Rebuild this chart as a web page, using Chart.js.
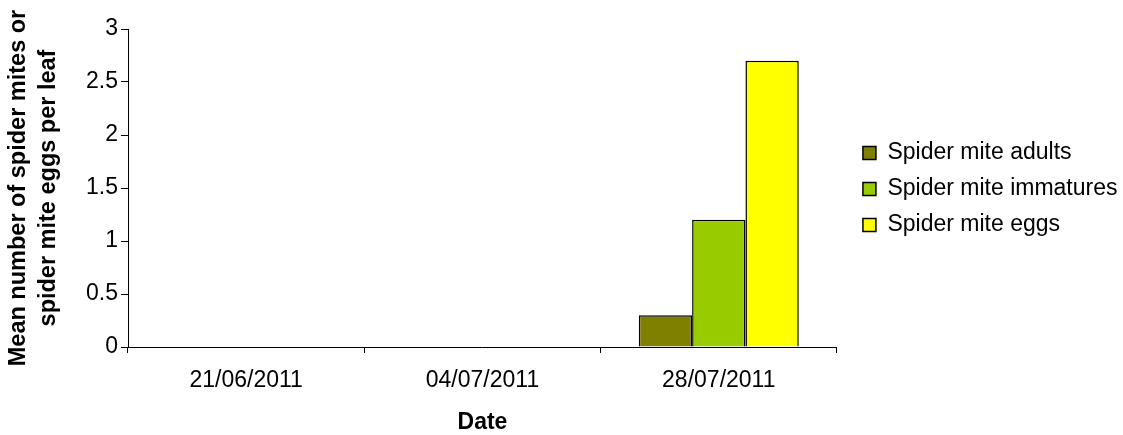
<!DOCTYPE html>
<html>
<head>
<meta charset="utf-8">
<script src="https://cdn.jsdelivr.net/npm/chart.js@4.4.1/dist/chart.umd.min.js"></script>
<style>
  html, body { margin: 0; padding: 0; background: #ffffff; }
  #wrap { width: 1123px; height: 435px; position: relative; }
</style>
</head>
<body>
<div id="wrap"><canvas id="c" width="1123" height="435"></canvas></div>
<script>
// Sampling dates and mean counts per leaf
const dates = ['21/06/2011', '04/07/2011', '28/07/2011'];
const adults = [0, 0, 0.3];
const immatures = [0, 0, 1.2];
const eggs = [0, 0, 2.7];
const seriesNames = ['Spider mite adults', 'Spider mite immatures', 'Spider mite eggs'];
const seriesColors = ['#808000', '#99cc00', '#ffff00'];
const yTicks = [0, 0.5, 1, 1.5, 2, 2.5, 3];

const FONT = 'Liberation Sans, Arial, sans-serif';

// Moves the legend block away from the plot area and up beside it
const legendPlace = {
  id: 'legendPlace',
  afterLayout(chart) {
    const lg = chart.legend;
    if (lg) {
      lg.left += 13; lg.right += 13;
      lg.top -= 43; lg.bottom -= 43;
    }
  }
};

const ctx = document.getElementById('c').getContext('2d');
new Chart(ctx, {
  type: 'bar',
  data: {
    labels: dates,
    datasets: [adults, immatures, eggs].map((vals, i) => ({
      label: seriesNames[i],
      data: vals,
      backgroundColor: seriesColors[i],
      borderColor: '#000000',
      borderWidth: 1.5,
      categoryPercentage: 0.677,
      barPercentage: 1.0
    }))
  },
  plugins: [legendPlace],
  options: {
    responsive: false,
    animation: false,
    devicePixelRatio: 1,
    layout: { padding: { top: 29, right: 8.5, left: 0, bottom: 0 } },
    plugins: {
      tooltip: { enabled: false },
      legend: {
        position: 'right',
        align: 'center',
        labels: {
          color: '#000000',
          font: { family: FONT, size: 23, lineHeight: 1.2 },
          boxWidth: 13,
          boxHeight: 13,
          padding: 13,
          generateLabels(chart) {
            return chart.data.datasets.map((ds, i) => ({
              text: ds.label,
              fillStyle: ds.backgroundColor,
              strokeStyle: '#000000',
              lineWidth: 1.5,
              hidden: false,
              datasetIndex: i,
              fontColor: '#000000'
            }));
          }
        }
      }
    },
    scales: {
      x: {
        offset: true,
        afterFit(axis) {
          axis.height = 88;
        },
        grid: {
          offset: true,
          drawOnChartArea: false,
          drawTicks: true,
          tickLength: 6,
          color: '#000000',
          lineWidth: 1
        },
        border: { color: '#000000', width: 1 },
        ticks: {
          color: '#000000',
          font: { family: FONT, size: 23, lineHeight: 1.15 },
          padding: 14,
          maxRotation: 0
        },
        title: {
          display: true,
          text: 'Date',
          color: '#000000',
          font: { family: FONT, size: 23, weight: 'bold', lineHeight: 1.05 },
          padding: { top: 17, bottom: 0 }
        }
      },
      y: {
        min: 0,
        max: 3,
        afterBuildTicks(axis) {
          axis.ticks = yTicks.map(v => ({ value: v }));
        },
        afterFit(axis) {
          axis.width = 128;
        },
        grid: {
          drawOnChartArea: false,
          drawTicks: true,
          tickLength: 7,
          color: '#000000'
        },
        border: { color: '#000000', width: 1 },
        ticks: {
          color: '#000000',
          font: { family: FONT, size: 23 },
          padding: 3,
          callback: v => String(v)
        },
        title: {
          display: true,
          text: ['Mean number of spider mites or', 'spider mite eggs per leaf'],
          color: '#000000',
          font: { family: FONT, size: 23.5, weight: 'bold', lineHeight: 1.25 },
          padding: { top: 4, bottom: 6 }
        }
      }
    }
  }
});
</script>
</body>
</html>
